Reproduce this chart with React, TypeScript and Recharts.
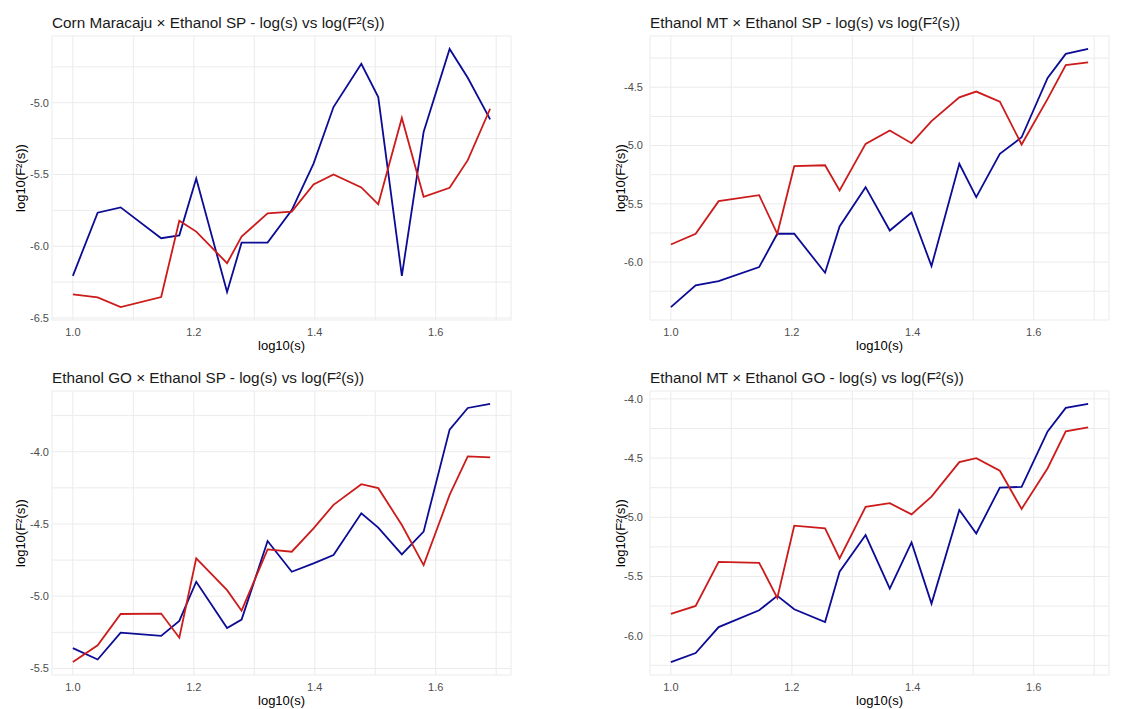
import React from "react";
import { LineChart, Line, XAxis, YAxis, CartesianGrid } from "recharts";

const FONT = '"Liberation Sans", Arial, Helvetica, sans-serif';
const BLUE = "#0b0b95";
const RED = "#cc1b1b";

// log10(s) for the window sizes s = 10, 11, 12, 14, ... 45, 49
const logS = [
  1.0, 1.041, 1.079, 1.146, 1.176, 1.204, 1.255, 1.279, 1.322, 1.362, 1.398,
  1.431, 1.477, 1.505, 1.544, 1.58, 1.623, 1.653, 1.69,
];

// Corn Maracaju × Ethanol SP
const cornSpBlue = [
  -6.206, -5.766, -5.729, -5.944, -5.924, -5.528, -6.319, -5.975, -5.975,
  -5.748, -5.424, -5.03, -4.729, -4.961, -6.206, -5.204, -4.625, -4.826, -5.116,
];
const cornSpRed = [
  -6.336, -6.356, -6.424, -6.354, -5.822, -5.898, -6.118, -5.933, -5.771,
  -5.759, -5.569, -5.5, -5.59, -5.708, -5.106, -5.655, -5.593, -5.4, -5.042,
];

// Ethanol MT × Ethanol SP
const mtSpBlue = [
  -6.386, -6.2, -6.163, -6.043, -5.757, -5.757, -6.091, -5.694, -5.357, -5.729,
  -5.574, -6.034, -5.157, -5.443, -5.071, -4.929, -4.42, -4.214, -4.171,
];
const mtSpRed = [
  -5.849, -5.757, -5.477, -5.426, -5.757, -5.177, -5.169, -5.386, -4.986,
  -4.871, -4.98, -4.791, -4.586, -4.537, -4.623, -4.991, -4.6, -4.309, -4.286,
];

// Ethanol GO × Ethanol SP
const goSpBlue = [
  -5.359, -5.438, -5.252, -5.275, -5.171, -4.9, -5.22, -5.162, -4.618, -4.831,
  -4.773, -4.715, -4.426, -4.525, -4.711, -4.553, -3.847, -3.697, -3.669,
];
const goSpRed = [
  -5.456, -5.34, -5.123, -5.12, -5.287, -4.738, -4.958, -5.1, -4.676, -4.692,
  -4.53, -4.368, -4.225, -4.252, -4.507, -4.785, -4.299, -4.032, -4.039,
];

// Ethanol MT × Ethanol GO
const mtGoBlue = [
  -6.223, -6.147, -5.927, -5.785, -5.664, -5.777, -5.884, -5.46, -5.15, -5.602,
  -5.212, -5.729, -4.938, -5.136, -4.749, -4.743, -4.274, -4.076, -4.042,
];
const mtGoRed = [
  -5.816, -5.749, -5.376, -5.384, -5.681, -5.071, -5.093, -5.347, -4.912,
  -4.881, -4.975, -4.825, -4.534, -4.5, -4.607, -4.929, -4.585, -4.274, -4.24,
];

const xMajor = [1.0, 1.2, 1.4, 1.6];
const xMinor = [1.1, 1.3, 1.5, 1.7];

const yMajorCornSp = [-6.5, -6.0, -5.5, -5.0];
const yMajorMtSp = [-6.0, -5.5, -5.0, -4.5];
const yMajorGoSp = [-5.5, -5.0, -4.5, -4.0];
const yMajorMtGo = [-6.0, -5.5, -5.0, -4.5, -4.0];

// ggplot-style 5% expansion around the data range
const expand = (vals: number[]): [number, number] => {
  const lo = Math.min(...vals);
  const hi = Math.max(...vals);
  const pad = (hi - lo) * 0.05;
  return [lo - pad, hi + pad];
};

const isMajor = (v: number, majors: number[]) =>
  majors.some((m) => Math.abs(m - v) < 1e-6);

interface PanelProps {
  title: string;
  blue: number[];
  red: number[];
  yMajor: number[];
  left: number;
  top: number;
  width: number;
  height: number;
  axisWidth: number;
  labelOffset: number;
  yTickMargin: number;
  marginRight: number;
}

function Panel({
  title,
  blue,
  red,
  yMajor,
  left,
  top,
  width,
  height,
  axisWidth,
  labelOffset,
  yTickMargin,
  marginRight,
}: PanelProps) {
  const rows = logS.map((x, i) => ({ x, blue: blue[i], red: red[i] }));
  const xDomain = expand(logS);
  const yDomain = expand([...blue, ...red]);
  // minor grid lines half-way between the labelled breaks
  const yMinor = [...yMajor.map((v) => v - 0.25), yMajor[yMajor.length - 1] + 0.25];
  const yTicks = [...yMajor, ...yMinor]
    .filter((v) => v >= yDomain[0] && v <= yDomain[1])
    .sort((a, b) => a - b);
  const xTicks = [...xMajor, ...xMinor]
    .filter((v) => v >= xDomain[0] && v <= xDomain[1])
    .sort((a, b) => a - b);

  return (
    <div style={{ position: "absolute", left, top, width, height }}>
      <div
        style={{
          position: "absolute",
          left: axisWidth,
          top: 15,
          fontSize: 15.3,
          lineHeight: 1,
          color: "#1a1a1a",
          whiteSpace: "nowrap",
          fontFamily: FONT,
        }}
      >
        {title}
      </div>
      <LineChart
        width={width}
        height={height}
        data={rows}
        margin={{ top: 36, right: marginRight, bottom: 0, left: 0 }}
        style={{ fontFamily: FONT }}
      >
        <CartesianGrid stroke="#ebebeb" strokeWidth={1} />
        <XAxis
          dataKey="x"
          type="number"
          domain={xDomain}
          ticks={xTicks}
          interval={0}
          height={35}
          axisLine={false}
          tickLine={false}
          tick={{ fill: "#4d4d4d", fontSize: 11 }}
          tickFormatter={(v: number) => (isMajor(v, xMajor) ? v.toFixed(1) : "")}
          label={{
            value: "log10(s)",
            position: "insideBottom",
            offset: 5,
            fill: "#000",
            fontSize: 13,
          }}
        />
        <YAxis
          type="number"
          domain={yDomain}
          ticks={yTicks}
          interval={0}
          width={axisWidth}
          axisLine={false}
          tickLine={false}
          tickSize={0}
          tickMargin={yTickMargin}
          tick={{ fill: "#4d4d4d", fontSize: 11 }}
          tickFormatter={(v: number) => (isMajor(v, yMajor) ? v.toFixed(1) : "")}
          label={{
            value: "log10(F²(s))",
            angle: -90,
            position: "insideLeft",
            offset: labelOffset,
            fill: "#000",
            fontSize: 13,
            style: { textAnchor: "middle" },
          }}
        />
        <Line
          type="linear"
          dataKey="blue"
          stroke={BLUE}
          strokeWidth={1.8}
          dot={false}
          isAnimationActive={false}
        />
        <Line
          type="linear"
          dataKey="red"
          stroke={RED}
          strokeWidth={1.8}
          dot={false}
          isAnimationActive={false}
        />
      </LineChart>
    </div>
  );
}

export default function App() {
  return (
    <div
      style={{
        position: "absolute",
        left: 0,
        top: 0,
        width: 1135,
        height: 709,
        background: "#fff",
        overflow: "hidden",
      }}
    >
      <Panel
        title="Corn Maracaju × Ethanol SP - log(s) vs log(F²(s))"
        blue={cornSpBlue}
        red={cornSpRed}
        yMajor={yMajorCornSp}
        left={0}
        top={0}
        width={567}
        height={355}
        axisWidth={52}
        labelOffset={20}
        yTickMargin={3}
        marginRight={56}
      />
      <Panel
        title="Ethanol MT × Ethanol SP - log(s) vs log(F²(s))"
        blue={mtSpBlue}
        red={mtSpRed}
        yMajor={yMajorMtSp}
        left={568}
        top={0}
        width={567}
        height={355}
        axisWidth={82}
        labelOffset={52}
        yTickMargin={7}
        marginRight={26}
      />
      <Panel
        title="Ethanol GO × Ethanol SP - log(s) vs log(F²(s))"
        blue={goSpBlue}
        red={goSpRed}
        yMajor={yMajorGoSp}
        left={0}
        top={355}
        width={567}
        height={355}
        axisWidth={52}
        labelOffset={20}
        yTickMargin={3}
        marginRight={56}
      />
      <Panel
        title="Ethanol MT × Ethanol GO - log(s) vs log(F²(s))"
        blue={mtGoBlue}
        red={mtGoRed}
        yMajor={yMajorMtGo}
        left={568}
        top={355}
        width={567}
        height={355}
        axisWidth={82}
        labelOffset={52}
        yTickMargin={7}
        marginRight={26}
      />
    </div>
  );
}
